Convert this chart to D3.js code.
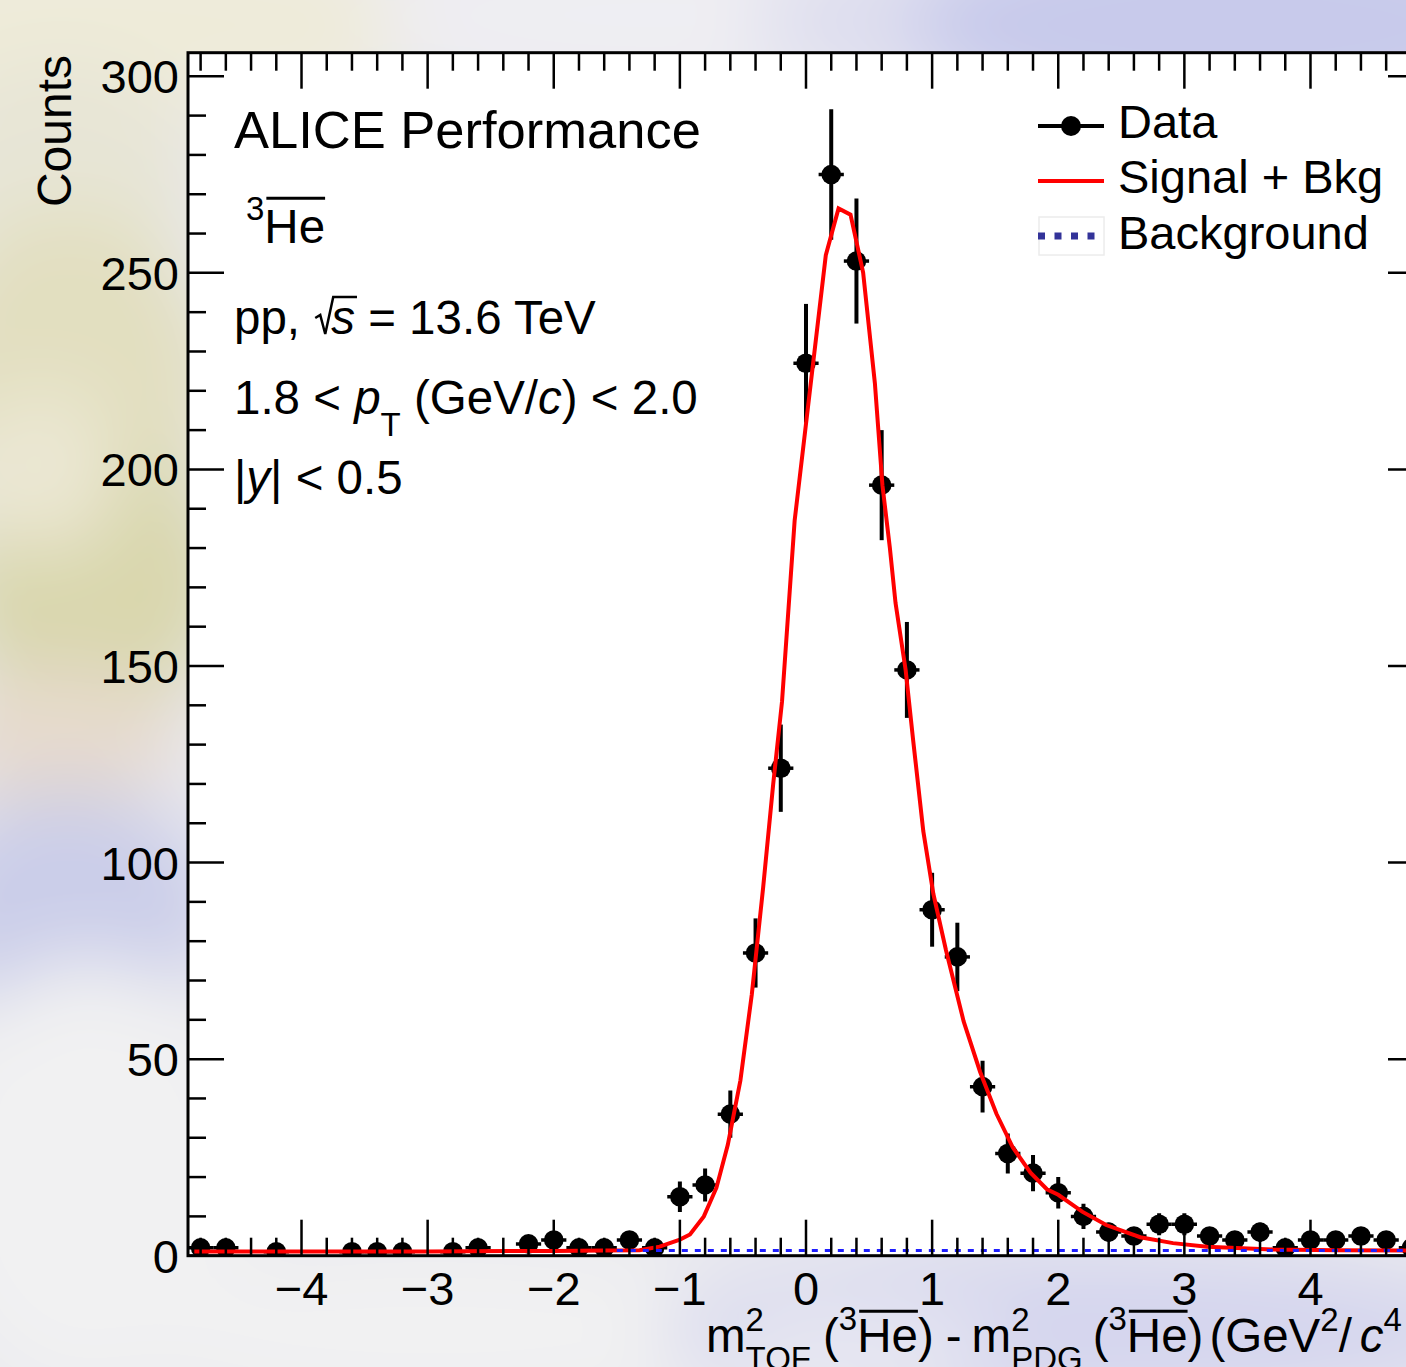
<!DOCTYPE html>
<html><head><meta charset="utf-8">
<script src="https://cdn.jsdelivr.net/npm/d3@7"></script>
<style>
html,body{margin:0;padding:0;overflow:hidden;background:#e9e9ef}
text{font-family:"Liberation Sans",Arial,Helvetica,sans-serif;white-space:pre;fill:#000}
</style>
</head><body>
<svg id="chart" width="1406" height="1367"></svg>
<script>
// ---------------- data ----------------
const binCenters = [-4.8,-4.6,-4.2,-3.6,-3.4,-3.2,-2.8,-2.6,-2.2,-2.0,-1.8,-1.6,-1.4,-1.2,-1.0,-0.8,-0.6,-0.4,-0.2,0.0,0.2,0.4,0.6,0.8,1.0,1.2,1.4,1.6,1.8,2.0,2.2,2.4,2.6,2.8,3.0,3.2,3.4,3.6,3.8,4.0,4.2,4.4,4.6,4.8];
const counts = [2,2,1,1,1,1,1,2,3,4,2,2,4,2,15,18,36,77,124,227,275,253,196,149,88,76,43,26,21,16,10,6,5,8,8,5,4,6,2,4,4,5,4,2];
const countErrors = [1.4,1.4,1,1,1,1,1,1.4,1.7,2,1.4,1.4,2,1.4,3.9,4.2,6,8.8,11.1,15.1,16.6,15.9,14,12.2,9.4,8.7,6.6,5.1,4.6,4,3.2,2.4,2.2,2.8,2.8,2.2,2,2.4,1.4,2,2,2.2,2,1.4];
const binHalfWidth = 0.1;

const fitX = [-4.85,-3.0,-2.0,-1.6,-1.32,-1.16,-1.0,-0.92,-0.81,-0.71,-0.62,-0.52,-0.43,-0.34,-0.26,-0.19,-0.09,0.157,0.258,0.353,0.453,0.546,0.606,0.665,0.71,0.79,0.85,0.93,1.01,1.11,1.25,1.38,1.51,1.64,1.78,1.91,2.0,2.19,2.38,2.65,2.91,3.18,3.70,4.2,4.9];
const fitY = [1.1,1.1,1.2,1.3,1.4,2.3,4.1,5.4,10.0,17.3,28.2,44.6,66.4,93.6,120,141,187,254.5,266.4,264.8,250.1,222,196,180,166,149,131,108,92,77.7,59.6,46.8,36.1,27.5,21.1,16.9,15.5,11.2,7.8,4.7,3.2,2.3,1.6,1.4,1.3];

const bkgX = [-1.5, 4.9];
const bkgY = [1.3, 1.3];

const xMajorTicks = [-4,-3,-2,-1,0,1,2,3,4];
const xTickLabels = ["\u22124","\u22123","\u22122","\u22121","0","1","2","3","4"];
const yMajorTicks = [0,50,100,150,200,250,300];
const yTickLabels = ["0","50","100","150","200","250","300"];
const legendLabels = ["Data","Signal + Bkg","Background"];

// ---------------- layout ----------------
const W = 1406, H = 1367;
const frame = {x0:188, x1:1424, y0:52.7, y1:1255.7};
const x = d3.scaleLinear().domain([-4.9,4.9]).range([frame.x0, frame.x1]);
const y = d3.scaleLinear().domain([0,306]).range([frame.y1, frame.y0]);

const svg = d3.select("#chart");
const defs = svg.append("defs");
defs.append("filter").attr("id","blur").attr("x","-50%").attr("y","-50%").attr("width","200%").attr("height","200%")
  .append("feGaussianBlur").attr("stdDeviation",38);
defs.append("clipPath").attr("id","plotclip").append("rect")
  .attr("x",frame.x0).attr("y",frame.y0).attr("width",frame.x1-frame.x0).attr("height",frame.y1-frame.y0);

// blurred photographic backdrop (decoration)
const blobs = [
  [120,25,330,90,"#eeebd9"],[650,15,280,70,"#efeef3"],[950,20,200,70,"#dedeef"],[1230,25,320,110,"#c8caeb"],
  [60,180,140,120,"#e7e5d6"],[70,380,150,170,"#e2dfc0"],[90,580,140,150,"#d9d7ad"],[40,470,80,80,"#ebe7d3"],[60,740,120,70,"#e6dacd"],
  [70,910,150,120,"#cbcee9"],[90,1180,170,220,"#f1f1f2"],[430,1330,330,90,"#f1f1f2"],
  [1080,1330,420,80,"#d5d6ee"],[860,1345,140,40,"#e8e8f2"]
];
const bg = svg.append("g").attr("filter","url(#blur)");
bg.append("rect").attr("x",-100).attr("y",-100).attr("width",W+200).attr("height",H+200).attr("fill","#e9e9ef");
blobs.forEach(b=>bg.append("ellipse").attr("cx",b[0]).attr("cy",b[1]).attr("rx",b[2]).attr("ry",b[3]).attr("fill",b[4]));

// frame fill
svg.append("rect").attr("x",frame.x0).attr("y",frame.y0).attr("width",frame.x1-frame.x0).attr("height",frame.y1-frame.y0).attr("fill","#fff");

const plot = svg.append("g").attr("clip-path","url(#plotclip)");

// data points
const pts = binCenters.map((c,i)=>({x:c, v:counts[i], e:countErrors[i]}));
const gp = plot.append("g");
gp.selectAll("line.ey").data(pts).join("line").attr("class","ey")
  .attr("x1",d=>x(d.x)).attr("x2",d=>x(d.x)).attr("y1",d=>y(d.v+d.e)).attr("y2",d=>y(Math.max(0,d.v-d.e)))
  .attr("stroke","#000").attr("stroke-width",4);
gp.selectAll("line.ex").data(pts).join("line").attr("class","ex")
  .attr("x1",d=>x(d.x-binHalfWidth)).attr("x2",d=>x(d.x+binHalfWidth)).attr("y1",d=>y(d.v)).attr("y2",d=>y(d.v))
  .attr("stroke","#000").attr("stroke-width",3.5);
gp.selectAll("circle").data(pts).join("circle")
  .attr("cx",d=>x(d.x)).attr("cy",d=>y(d.v)).attr("r",9.8).attr("fill","#000");

// fit curve
const line = d3.line().x(d=>x(d[0])).y(d=>y(d[1]));
plot.append("path").datum(fitX.map((v,i)=>[v,fitY[i]])).attr("d",line)
  .attr("fill","none").attr("stroke","#ff0000").attr("stroke-width",4).attr("stroke-linejoin","miter");
// background
plot.append("path").datum(bkgX.map((v,i)=>[v,bkgY[i]])).attr("d",line)
  .attr("fill","none").attr("stroke","#1e1eff").attr("stroke-width",3).attr("stroke-dasharray","6,7");

// axes / frame
const ax = svg.append("g").attr("stroke","#000");
ax.append("rect").attr("x",frame.x0).attr("y",frame.y0).attr("width",frame.x1-frame.x0).attr("height",frame.y1-frame.y0)
  .attr("fill","none").attr("stroke-width",3);
const xMinor = d3.range(-48,49,2).map(v=>v/10);
const yMinor = d3.range(0,306,10);
const majL = 36, minL = 18;
xMinor.forEach(v=>{
  const isMaj = xMajorTicks.some(t=>Math.abs(t-v)<1e-6);
  const L = isMaj?majL:minL;
  ax.append("line").attr("x1",x(v)).attr("x2",x(v)).attr("y1",frame.y1).attr("y2",frame.y1-L).attr("stroke-width",2.5);
  ax.append("line").attr("x1",x(v)).attr("x2",x(v)).attr("y1",frame.y0).attr("y2",frame.y0+L).attr("stroke-width",2.5);
});
yMinor.forEach(v=>{
  const isMaj = yMajorTicks.includes(v);
  const L = isMaj?majL:minL;
  ax.append("line").attr("x1",frame.x0).attr("x2",frame.x0+L).attr("y1",y(v)).attr("y2",y(v)).attr("stroke-width",2.5);
  ax.append("line").attr("x1",frame.x1).attr("x2",frame.x1-L).attr("y1",y(v)).attr("y2",y(v)).attr("stroke-width",2.5);
});

// tick labels
const tl = svg.append("g").attr("font-size",47);
xMajorTicks.forEach((v,i)=>{
  tl.append("text").attr("x",x(v)).attr("y",1305).attr("text-anchor","middle").text(xTickLabels[i]);
});
yMajorTicks.forEach((v,i)=>{
  tl.append("text").attr("x",179).attr("y",y(v)+17).attr("text-anchor","end").text(yTickLabels[i]);
});

// rich text helper (gap = extra horizontal offset before segment)
function rich(parent, x0, y0, segs){
  let cx = x0, stackX = x0, prevW = 0;
  segs.forEach(s=>{
    const px = s.stack ? stackX : cx + (s.gap||0);
    const t = parent.append("text").attr("x",px).attr("y",y0+(s.dy||0)).attr("font-size",s.size)
      .attr("font-style",s.italic?"italic":null).text(s.t);
    const w = t.node().getComputedTextLength();
    if(s.over){
      const oy = y0+(s.dy||0)-s.size*(s.overH||0.9);
      parent.append("line").attr("x1",px+2).attr("x2",px+w).attr("y1",oy).attr("y2",oy).attr("stroke","#000").attr("stroke-width",3);
    }
    if(s.stack){ cx = stackX + Math.max(prevW,w); }
    else { stackX = px; prevW = w; cx = px + w; }
  });
  return cx;
}

// y axis title
svg.append("text").attr("transform","translate(71,55) rotate(-90)").attr("text-anchor","end").attr("font-size",48).text("Counts");

// x axis title
const fs = 47.5, sup = 33;
rich(svg, 706, 1352, [
  {t:"m",size:fs},{t:"2",size:sup,dy:-21},{t:"TOF",size:sup,dy:18,stack:true},
  {t:"(",size:fs,gap:12},{t:"3",size:sup,dy:-22},{t:"He",size:fs,over:true,overH:0.86},{t:")",size:fs},{t:"-",size:fs,gap:12},{t:"m",size:fs,gap:10},
  {t:"2",size:sup,dy:-21},{t:"PDG",size:sup,dy:18,stack:true},
  {t:"(",size:fs,gap:10},{t:"3",size:sup,dy:-22},{t:"He",size:fs,over:true,overH:0.86},{t:")",size:fs},{t:"(GeV",size:fs,gap:6},
  {t:"2",size:sup,dy:-21},{t:"/",size:fs},{t:"c",size:fs,italic:true,gap:8},{t:"4",size:sup,dy:-21}
]);

// annotations
const ann = svg.append("g");
ann.append("text").attr("x",234).attr("y",148).attr("font-size",52.5).text("ALICE Performance");
rich(ann, 246, 243, [{t:"3",size:33,dy:-23},{t:"He",size:fs,over:true,overH:0.94}]);
// pp, sqrt(s) = 13.6 TeV
const ppEnd = rich(ann, 234, 334, [{t:"pp, ",size:fs}]);
const sX = ppEnd + 18;
const sEnd = rich(ann, sX, 334, [{t:"s",size:fs,italic:true}]);
ann.append("path").attr("d",`M${sX-16},${334-16} L${sX-11},${334-19} L${sX-6},${334} L${sX+2},${334-37} L${sEnd+2},${334-37}`)
  .attr("fill","none").attr("stroke","#000").attr("stroke-width",2.5);
rich(ann, sEnd, 334, [{t:" = 13.6 TeV",size:fs}]);
rich(ann, 234, 414, [{t:"1.8 < ",size:fs},{t:"p",size:fs,italic:true},{t:"T",size:sup,dy:22},{t:" (GeV/",size:fs},{t:"c",size:fs,italic:true},{t:") < 2.0",size:fs}]);
rich(ann, 234, 494, [{t:"|",size:fs},{t:"y",size:fs,italic:true},{t:"| < 0.5",size:fs}]);

// legend
const lg = svg.append("g");
const rowY = [126, 181, 236];
const baseY = [138, 193, 249];
lg.append("line").attr("x1",1038).attr("x2",1104).attr("y1",rowY[0]).attr("y2",rowY[0]).attr("stroke","#000").attr("stroke-width",4);
lg.append("circle").attr("cx",1071).attr("cy",rowY[0]).attr("r",10).attr("fill","#000");
lg.append("line").attr("x1",1038).attr("x2",1104).attr("y1",rowY[1]).attr("y2",rowY[1]).attr("stroke","#ff0000").attr("stroke-width",4);
lg.append("rect").attr("x",1039).attr("y",217).attr("width",65).attr("height",38).attr("fill","none").attr("stroke","#ececec").attr("stroke-width",1.5);
lg.append("line").attr("x1",1038).attr("x2",1099).attr("y1",rowY[2]).attr("y2",rowY[2]).attr("stroke","#333399").attr("stroke-width",7).attr("stroke-dasharray","7,9.5");
legendLabels.forEach((l,i)=>lg.append("text").attr("x",1118).attr("y",baseY[i]).attr("font-size",47).text(l));
</script>
</body></html>
